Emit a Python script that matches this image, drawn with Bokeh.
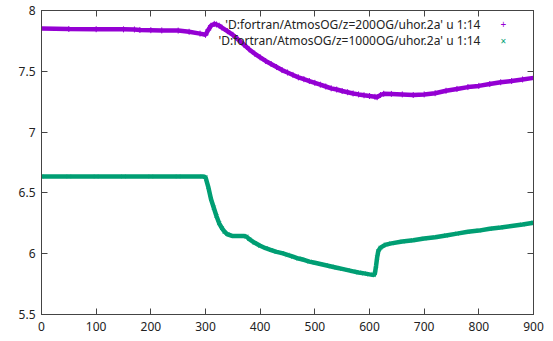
from bokeh.plotting import figure
from bokeh.models import LinearAxis, FixedTicker, Label, Range1d, ColumnDataSource
from bokeh.embed import file_html
from bokeh.resources import INLINE

# ---- data ----
x_purple = [0, 50, 100, 150, 170, 180, 200, 220, 250, 270, 290, 300, 305, 310, 316, 320, 325,
            330, 340, 350, 360, 370, 380, 390, 400, 410, 420, 430, 440, 450, 460, 470, 480,
            490, 500, 510, 520, 530, 540, 550, 560, 570, 580, 590, 600, 610, 614, 620, 626,
            640, 660, 680, 700, 720, 740, 760, 780, 800, 820, 840, 860, 880, 900]
y_purple = [7.852, 7.848, 7.846, 7.845, 7.844, 7.840, 7.838, 7.836, 7.835, 7.825, 7.81, 7.80,
            7.84, 7.875, 7.89, 7.885, 7.875, 7.86, 7.83, 7.80, 7.76, 7.72, 7.68, 7.645, 7.615,
            7.585, 7.56, 7.535, 7.51, 7.49, 7.47, 7.45, 7.435, 7.42, 7.405, 7.39, 7.375, 7.36,
            7.35, 7.338, 7.328, 7.318, 7.31, 7.303, 7.297, 7.29, 7.287, 7.305, 7.315, 7.314,
            7.31, 7.305, 7.31, 7.32, 7.34, 7.355, 7.37, 7.38, 7.395, 7.41, 7.42, 7.433, 7.446]

x_green = [0, 50, 100, 150, 200, 250, 295, 300, 305, 310, 315, 320, 325, 330, 335, 340, 350,
           360, 370, 375, 380, 390, 400, 410, 420, 430, 440, 450, 460, 470, 480, 490, 500, 510,
           520, 530, 540, 550, 560, 570, 580, 590, 600, 608, 610, 612, 614, 616, 620, 630, 640,
           660, 680, 700, 720, 740, 760, 780, 800, 820, 840, 860, 880, 900]
y_green = [6.635, 6.635, 6.635, 6.635, 6.635, 6.635, 6.635, 6.63, 6.55, 6.45, 6.38, 6.31, 6.25,
           6.21, 6.18, 6.16, 6.145, 6.145, 6.145, 6.14, 6.12, 6.09, 6.065, 6.045, 6.03, 6.015,
           6.005, 5.99, 5.975, 5.96, 5.95, 5.935, 5.925, 5.915, 5.905, 5.895, 5.885, 5.875,
           5.865, 5.855, 5.845, 5.838, 5.83, 5.825, 5.84, 5.90, 5.97, 6.02, 6.05, 6.075, 6.085,
           6.10, 6.11, 6.125, 6.135, 6.15, 6.165, 6.18, 6.19, 6.205, 6.215, 6.228, 6.24, 6.255]

x_ticks = [0, 100, 200, 300, 400, 500, 600, 700, 800, 900]
y_ticks = [5.5, 6, 6.5, 7, 7.5, 8]
y_tick_labels = {5.5: "5.5", 6: "6", 6.5: "6.5", 7: "7", 7.5: "7.5", 8: "8"}

label_purple = "'D:fortran/AtmosOG/z=200OG/uhor.2a' u 1:14"
label_green = "'D:fortran/AtmosOG/z=1000OG/uhor.2a' u 1:14"

PURPLE = "#9400D3"
GREEN = "#009E73"
FONT = "Noto Sans"
TXT = "#222222"
AX = "#444444"

p = figure(width=553, height=341, output_backend="svg", toolbar_location=None,
           x_range=Range1d(0, 900), y_range=Range1d(5.5, 8),
           min_border_left=41, min_border_right=20, min_border_top=10, min_border_bottom=27)
p.grid.grid_line_color = None
p.outline_line_color = AX
p.background_fill_color = "white"

src_p = ColumnDataSource(dict(x=x_purple, y=y_purple))
src_g = ColumnDataSource(dict(x=x_green, y=y_green))
p.line("x", "y", source=src_p, color=PURPLE, line_width=4.5)
p.scatter("x", "y", source=src_p, marker="cross", size=6, line_color=PURPLE, line_width=1)
p.line("x", "y", source=src_g, color=GREEN, line_width=4.5)
p.scatter("x", "y", source=src_g, marker="x", size=5, line_color=GREEN, line_width=1)

def style(ax, labels=True):
    ax.axis_line_color = AX
    ax.major_tick_line_color = AX
    ax.major_tick_in = 6
    ax.major_tick_out = 0
    ax.minor_tick_line_color = None
    if labels:
        ax.major_label_text_font = FONT
        ax.major_label_text_font_size = "12px"
        ax.major_label_text_color = TXT
    else:
        ax.major_label_text_font_size = "0px"
        ax.major_label_text_color = None
        ax.major_label_standoff = 0

p.xaxis.ticker = FixedTicker(ticks=x_ticks)
p.yaxis.ticker = FixedTicker(ticks=y_ticks)
p.yaxis.major_label_overrides = y_tick_labels
style(p.xaxis[0]); style(p.yaxis[0])
p.xaxis.major_label_standoff = 7
p.yaxis.major_label_standoff = 6

top = LinearAxis(ticker=FixedTicker(ticks=x_ticks))
right = LinearAxis(ticker=FixedTicker(ticks=y_ticks))
style(top, False); style(right, False)
p.add_layout(top, "above")
p.add_layout(right, "right")

for txt, yv in [(label_purple, 7.885), (label_green, 7.753)]:
    p.add_layout(Label(x=803, y=yv, text=txt, text_align="right", text_baseline="middle",
                       text_font=FONT, text_font_size="12px", text_color=TXT))
p.add_layout(Label(x=845, y=7.885, text="+", text_align="center", text_baseline="middle",
                   text_font=FONT, text_font_size="10px", text_color=PURPLE))
p.add_layout(Label(x=845, y=7.753, text="×", text_align="center", text_baseline="middle",
                   text_font=FONT, text_font_size="10px", text_color=GREEN))

open("out.html", "w").write(file_html(p, INLINE))
